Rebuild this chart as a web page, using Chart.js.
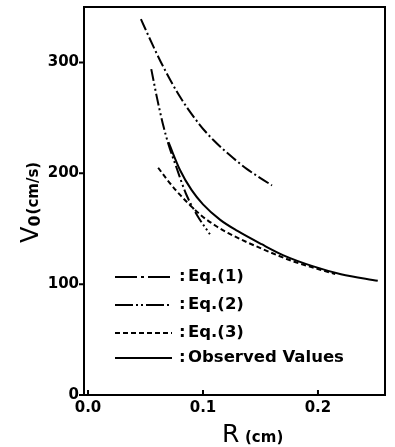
<!DOCTYPE html>
<html>
<head>
<meta charset="utf-8">
<script src="https://cdn.jsdelivr.net/npm/chart.js@4.4.1/dist/chart.umd.min.js"></script>
<style>
  html, body { margin: 0; padding: 0; background: #fff; }
  #wrap { width: 395px; height: 447px; }
</style>
</head>
<body>
<div id="wrap"><canvas id="vChart" width="395" height="447"></canvas></div>
<script>
// values: R (cm) vs V0 (cm/s)
const eq1R = [0.046, 0.057, 0.065, 0.080, 0.097, 0.109, 0.126, 0.138, 0.160];
const eq1V = [339, 314, 297, 269, 244, 230, 214, 204, 189];

const eq2R = [0.055, 0.060, 0.065, 0.070, 0.077, 0.085, 0.095, 0.106];
const eq2V = [294, 268, 245, 226, 205, 182, 162, 145];

const eq3R = [0.061, 0.069, 0.077, 0.089, 0.099, 0.112, 0.122, 0.151, 0.180, 0.202, 0.215];
const eq3V = [205, 194, 184, 171, 161.5, 152, 146, 132, 120, 113, 109];

const obsR = [0.070, 0.080, 0.090, 0.100, 0.115, 0.130, 0.151, 0.170, 0.196, 0.220, 0.252];
const obsV = [228, 203, 185, 172, 158, 148, 136, 126, 116, 109, 103];

const xTicks = [0, 0.1, 0.2];
const yTicks = [0, 100, 200, 300];
const seriesNames = ['Eq.(1)', 'Eq.(2)', 'Eq.(3)', 'Observed Values'];

const curveDash = [[12, 3, 2, 3], [12, 3, 2, 3, 2, 3], [5, 3], []];
const legendDash = [[22, 4, 3, 4], [18, 3, 2, 3, 2, 3], [5, 3], []];

const FONT = '"DejaVu Sans", sans-serif';

const toPoints = (xs, ys) => xs.map((x, i) => ({ x, y: ys[i] }));

const makeSet = (label, xs, ys, dash) => ({
    label,
    data: toPoints(xs, ys),
    borderColor: '#000',
    borderWidth: 2,
    borderDash: dash,
    pointRadius: 0,
    fill: false,
    cubicInterpolationMode: 'monotone'
});

const noPad = (scale) => {
    scale.paddingTop = 0;
    scale.paddingBottom = 0;
    scale.paddingLeft = 0;
    scale.paddingRight = 0;
};

const figurePlugin = {
    id: 'figurePlugin',
    afterDraw: (chart) => {
        const ctx = chart.ctx;
        const area = chart.chartArea;
        const xs = chart.scales.x;
        const ys = chart.scales.y;
        ctx.save();
        ctx.strokeStyle = '#000';
        ctx.fillStyle = '#000';
        ctx.lineWidth = 2;
        ctx.setLineDash([]);
        ctx.strokeRect(area.left, area.top, area.right - area.left, area.bottom - area.top);

        // y ticks point outward, x ticks point inward
        ctx.beginPath();
        yTicks.forEach((v) => {
            const py = ys.getPixelForValue(v);
            ctx.moveTo(area.left - 5, py);
            ctx.lineTo(area.left, py);
        });
        xTicks.forEach((v) => {
            const px = xs.getPixelForValue(v);
            ctx.moveTo(px, area.bottom);
            ctx.lineTo(px, area.bottom - 5);
        });
        ctx.stroke();

        // legend
        const rows = [277, 305, 333, 358];
        ctx.textBaseline = 'middle';
        rows.forEach((ry, i) => {
            ctx.beginPath();
            ctx.setLineDash(legendDash[i]);
            ctx.moveTo(115, ry);
            ctx.lineTo(172, ry);
            ctx.stroke();
            ctx.setLineDash([]);
            ctx.font = `bold 16.5px ${FONT}`;
            ctx.textAlign = 'left';
            ctx.fillText(':', 179, ry);
            ctx.fillText(seriesNames[i], 188, ry);
        });

        // x title
        ctx.textBaseline = 'alphabetic';
        ctx.textAlign = 'left';
        ctx.font = `25px ${FONT}`;
        ctx.fillText('R', 222, 442);
        ctx.font = `bold 15px ${FONT}`;
        ctx.fillText('(cm)', 245, 442);

        // y title
        ctx.translate(38, 243);
        ctx.rotate(-Math.PI / 2);
        ctx.font = `24px ${FONT}`;
        ctx.fillText('V', 0, 0);
        let off = ctx.measureText('V').width;
        ctx.font = `bold 16px ${FONT}`;
        ctx.fillText('0', off, 2);
        off += ctx.measureText('0').width + 1;
        ctx.font = `bold 15px ${FONT}`;
        ctx.fillText('(cm/s)', off, 0);
        ctx.restore();
    }
};

const chart = new Chart(document.getElementById('vChart'), {
    type: 'line',
    data: {
        datasets: [
            makeSet(seriesNames[0], eq1R, eq1V, curveDash[0]),
            makeSet(seriesNames[1], eq2R, eq2V, curveDash[1]),
            makeSet(seriesNames[2], eq3R, eq3V, curveDash[2]),
            makeSet(seriesNames[3], obsR, obsV, curveDash[3])
        ]
    },
    options: {
        responsive: false,
        animation: false,
        layout: { padding: { left: 0, top: 7, right: 10, bottom: 0 } },
        plugins: {
            legend: { display: false },
            tooltip: { enabled: false }
        },
        scales: {
            x: {
                type: 'linear',
                min: -0.0035,
                max: 0.2583,
                grid: { display: false, drawTicks: false },
                border: { display: false },
                afterBuildTicks: (scale) => { scale.ticks = xTicks.map((v) => ({ value: v })); },
                afterFit: (scale) => { scale.height = 52; noPad(scale); },
                ticks: {
                    padding: 4,
                    color: '#000',
                    font: { family: FONT, size: 15, weight: 'bold' },
                    callback: (v) => Number(v).toFixed(1)
                }
            },
            y: {
                type: 'linear',
                min: 0,
                max: 350,
                grid: { display: false, drawTicks: false },
                border: { display: false },
                afterBuildTicks: (scale) => { scale.ticks = yTicks.map((v) => ({ value: v })); },
                afterFit: (scale) => { scale.width = 84; noPad(scale); },
                ticks: {
                    padding: 5,
                    color: '#000',
                    font: { family: FONT, size: 15, weight: 'bold' }
                }
            }
        }
    },
    plugins: [figurePlugin]
});
</script>
</body>
</html>
